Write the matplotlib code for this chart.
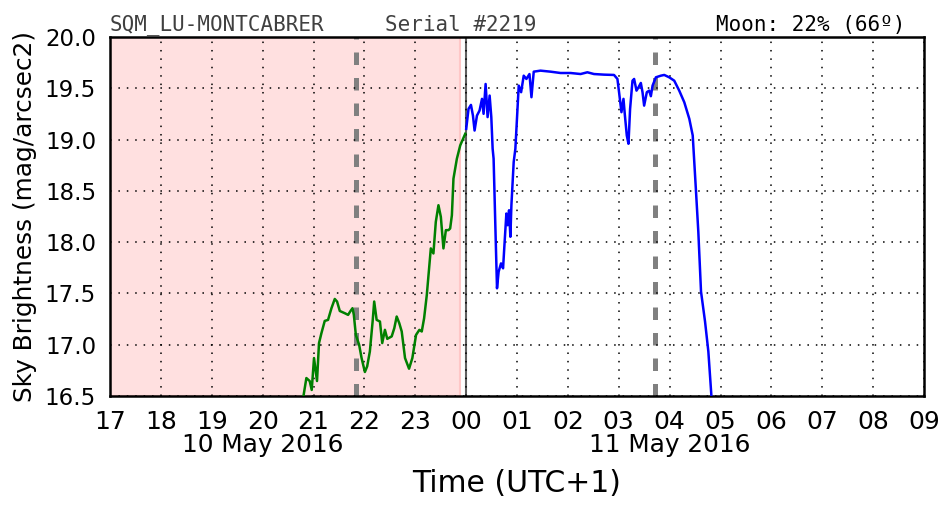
import matplotlib
matplotlib.use("Agg")
import matplotlib.pyplot as plt
import matplotlib.transforms as mtransforms

# hours since 10 May 2016 00:00 (UTC+1)
green_t = [20.78, 20.807, 20.860, 20.925, 20.965, 21.010, 21.069, 21.108, 21.156, 21.221, 21.286,
           21.353, 21.418, 21.463, 21.517, 21.615, 21.680, 21.728, 21.767, 21.793, 21.832,
           21.897, 21.945, 22.010, 22.055, 22.108, 22.162, 22.193, 22.241, 22.306, 22.351,
           22.404, 22.450, 22.537, 22.588, 22.635, 22.686, 22.734, 22.799, 22.878, 22.943,
           23.016, 23.081, 23.128, 23.174, 23.227, 23.306, 23.357, 23.404, 23.456, 23.503,
           23.554, 23.602, 23.653, 23.686, 23.720, 23.751, 23.818, 23.884, 23.982]
green_v = [16.40, 16.513, 16.675, 16.646, 16.559, 16.870, 16.646, 17.015, 17.113, 17.232, 17.242,
           17.356, 17.446, 17.421, 17.329, 17.307, 17.291, 17.329, 17.356, 17.291, 17.096,
           16.999, 16.870, 16.734, 16.789, 16.935, 17.226, 17.421, 17.242, 17.226, 17.016,
           17.145, 17.057, 17.081, 17.161, 17.275, 17.210, 17.129, 16.870, 16.766, 16.870,
           17.096, 17.145, 17.129, 17.258, 17.485, 17.939, 17.890, 18.198, 18.360, 18.247,
           17.939, 18.117, 18.117, 18.133, 18.262, 18.619, 18.813, 18.943, 19.056]

blue_t = [24.002, 24.047, 24.095, 24.134, 24.166, 24.213, 24.264, 24.312, 24.343, 24.383,
          24.422, 24.462, 24.495, 24.521, 24.540, 24.574, 24.607, 24.639, 24.686, 24.726,
          24.757, 24.791, 24.817, 24.844, 24.870, 24.890, 24.935, 24.968, 25.034, 25.081,
          25.132, 25.185, 25.245, 25.284, 25.329, 25.462, 25.659, 25.856, 26.053, 26.250,
          26.383, 26.513, 26.710, 26.907, 26.974, 27.006, 27.053, 27.093, 27.118, 27.158,
          27.191, 27.223, 27.270, 27.302, 27.349, 27.389, 27.434, 27.467, 27.499, 27.552,
          27.598, 27.631, 27.665, 27.730, 27.828, 27.894, 27.992, 28.091, 28.189, 28.288,
          28.387, 28.454, 28.519, 28.564, 28.617, 28.696, 28.761, 28.815, 28.834]
blue_v = [19.105, 19.299, 19.338, 19.234, 19.088, 19.234, 19.283, 19.397, 19.251, 19.542,
          19.219, 19.429, 19.219, 18.911, 18.814, 18.165, 17.550, 17.712, 17.793, 17.745,
          18.004, 18.279, 18.165, 18.311, 18.052, 18.360, 18.781, 18.911, 19.526, 19.462,
          19.623, 19.591, 19.639, 19.413, 19.662, 19.672, 19.662, 19.649, 19.649, 19.639,
          19.656, 19.639, 19.633, 19.630, 19.591, 19.462, 19.267, 19.397, 19.251, 19.040,
          18.959, 19.299, 19.574, 19.591, 19.477, 19.510, 19.552, 19.462, 19.331, 19.462,
          19.477, 19.423, 19.526, 19.607, 19.623, 19.630, 19.607, 19.574, 19.477, 19.364,
          19.202, 19.040, 18.490, 18.101, 17.518, 17.226, 16.935, 16.546, 16.40]

x_ticks = list(range(17, 34))
x_ticklabels = ["%02d" % (h % 24) for h in x_ticks]
y_ticks = [16.5, 17.0, 17.5, 18.0, 18.5, 19.0, 19.5, 20.0]
date_labels = ["10 May 2016", "11 May 2016"]
date_pos = [20.0, 28.0]
twilight_start, twilight_end = 16.0, 23.87
moon_lines = [21.83, 27.71]
midnight = 24.0

fig = plt.figure(figsize=(9.52, 5.12), dpi=100)
ax = fig.add_axes([110/952, 1-396/512, 814/952, 359/512])

ax.axvspan(twilight_start, twilight_end, facecolor=(1.0, 0.88, 0.88), edgecolor=(1.0, 0.78, 0.78),
           lw=1.5, zorder=0)
for m in moon_lines:
    ax.axvline(m, color='#808080', lw=3.6, linestyle=(0, (2.5, 2.6)), zorder=1)
ax.axvline(midnight, color='#606060', lw=1.5, zorder=1)

ax.plot(green_t, green_v, color='#008000', lw=1.8, zorder=3)
ax.plot(blue_t, blue_v, color='#0000ff', lw=1.8, zorder=3)

ax.set_xlim(17, 33)
ax.set_ylim(16.5, 20.0)
ax.set_xticks(x_ticks)
ax.set_xticklabels(x_ticklabels)
ax.set_yticks(y_ticks)
ax.set_yticklabels(["%.1f" % v for v in y_ticks])
ax.tick_params(axis='both', length=0, width=0)
ax.tick_params(axis='x', pad=10, labelsize=18)
ax.tick_params(axis='y', pad=10, labelsize=16.5)
ax.grid(True, color='k', linestyle=(0, (1, 4.5)), lw=1.1)
for s in ax.spines.values():
    s.set_linewidth(1.8)

trans = mtransforms.blended_transform_factory(ax.transData, fig.transFigure)
for d, p in zip(date_labels, date_pos):
    ax.text(p, 1-445/512, d, transform=trans, ha='center', va='center', fontsize=17.8)

fig.text(0.5 * (110 + 924) / 952, 1-483/512, "Time (UTC+1)", ha='center', va='center', fontsize=21.5)
fig.text(25/952, 1-217/512, "Sky Brightness (mag/arcsec2)", rotation=90, ha='center', va='center',
         fontsize=17.8)

fig.text(110/952, 1-25/512, "SQM_LU-MONTCABRER", family='DejaVu Sans Mono', fontsize=15,
         color='#404040', ha='left', va='center')
fig.text(385/952, 1-25/512, "Serial #2219", family='DejaVu Sans Mono', fontsize=15,
         color='#404040', ha='left', va='center')
fig.text(905/952, 1-25/512, "Moon: 22% (66º)", family='DejaVu Sans Mono', fontsize=15,
         color='black', ha='right', va='center')

fig.savefig("out.png", dpi=100)
